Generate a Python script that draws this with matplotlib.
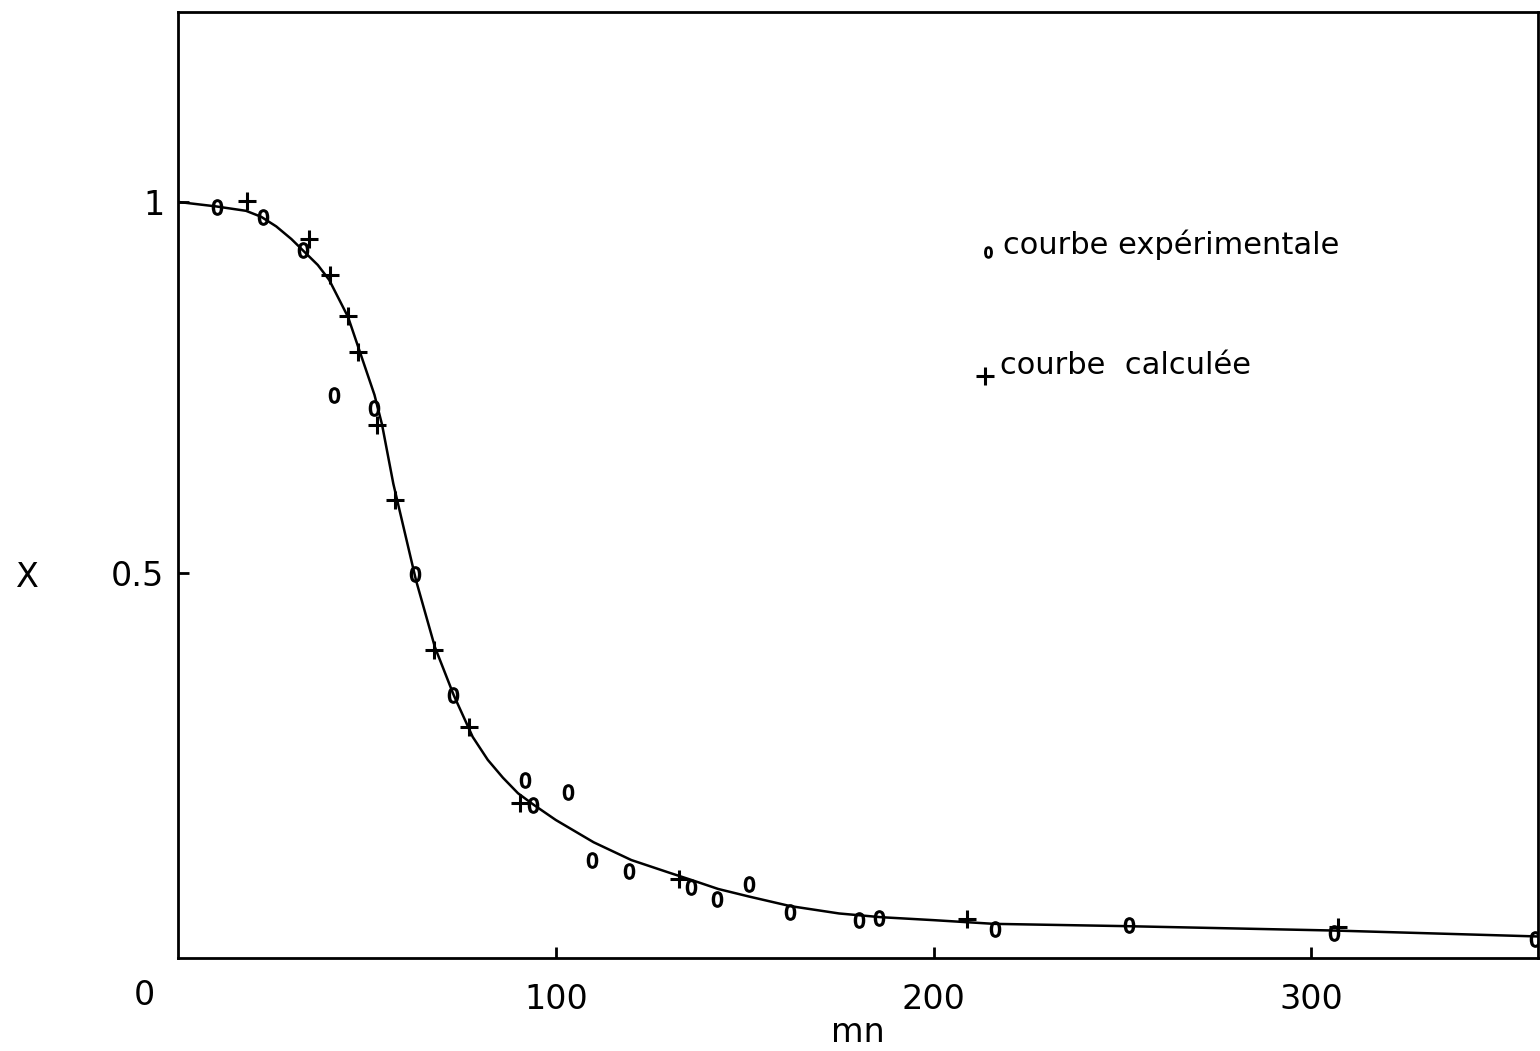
import matplotlib
matplotlib.use("Agg")
import matplotlib.pyplot as plt

# temps (mn) et taux X
exp_t = [10.3, 22.5, 33.1, 41.3, 51.9, 62.7, 72.8, 91.9, 94.0, 103.3, 109.6, 119.4,
         135.8, 142.7, 151.2, 162.0, 180.3, 185.6, 216.3, 251.8, 306.1, 359.2]
exp_x = [0.993, 0.980, 0.935, 0.740, 0.722, 0.499, 0.336, 0.221, 0.187, 0.205, 0.113, 0.098,
         0.077, 0.061, 0.081, 0.043, 0.032, 0.035, 0.020, 0.026, 0.015, 0.007]

calc_t = [18.3, 34.7, 40.2, 45.0, 47.7, 52.7, 57.5, 67.8, 77.0, 90.5, 132.6, 208.9, 307.1]
calc_x = [1.001, 0.950, 0.902, 0.846, 0.798, 0.699, 0.598, 0.396, 0.292, 0.190, 0.088, 0.034, 0.023]

curve_t = [0, 10, 18, 22, 26, 30, 33, 37, 40, 45, 50, 52, 54, 57, 60, 63, 68, 73, 78, 82, 86,
           90, 94, 100, 110, 120, 130, 136, 143, 151, 162, 175, 186, 200, 216, 250, 306, 360]
curve_x = [1.0, 0.994, 0.988, 0.980, 0.967, 0.950, 0.935, 0.915, 0.895, 0.845, 0.77, 0.74, 0.70,
           0.62, 0.555, 0.49, 0.40, 0.335, 0.279, 0.248, 0.224, 0.203, 0.188, 0.167, 0.137,
           0.113, 0.096, 0.086, 0.074, 0.064, 0.051, 0.041, 0.036, 0.032, 0.027, 0.024, 0.018,
           0.010]

fig = plt.figure(figsize=(15.4, 10.51), dpi=100)
ax = fig.add_axes([0.1156, 0.0885, 0.8831, 0.9001])

ax.plot(curve_t, curve_x, color='black', lw=1.8, zorder=2)
ax.plot(exp_t, exp_x, ls='none', marker='$0$', ms=11, color='black', zorder=3)
ax.plot(calc_t, calc_x, ls='none', marker='+', ms=13, mew=2.2, color='black', zorder=3)

ax.set_xlim(0, 360)
ax.set_ylim(-0.019, 1.256)

for s in ax.spines.values():
    s.set_linewidth(2)

ax.set_xticks([100, 200, 300])
ax.set_xticklabels(['100', '200', '300'])
ax.set_yticks([0.5, 1])
ax.set_yticklabels(['0.5', '1'])
ax.tick_params(direction='in', length=8, width=2, labelsize=24, pad=18)
ax.tick_params(axis='y', pad=10)

ax.text(-9, -0.07, '0', fontsize=24, ha='center', va='center')
ax.set_xlabel('mn', fontsize=24, labelpad=0)
ax.set_ylabel('X', fontsize=24, rotation=0, va='center', ha='center')
ax.yaxis.set_label_coords(-0.111, 0.402)

# legende
ax.plot([214.5], [0.932], marker='$0$', ms=8, color='black', ls='none')
ax.text(218.4, 0.942, 'courbe expérimentale', fontsize=22, va='center')
ax.plot([213.7], [0.766], marker='+', ms=13, mew=2.2, color='black', ls='none')
ax.text(217.6, 0.779, 'courbe  calculée', fontsize=22, va='center')

fig.savefig('out.png', dpi=100)
